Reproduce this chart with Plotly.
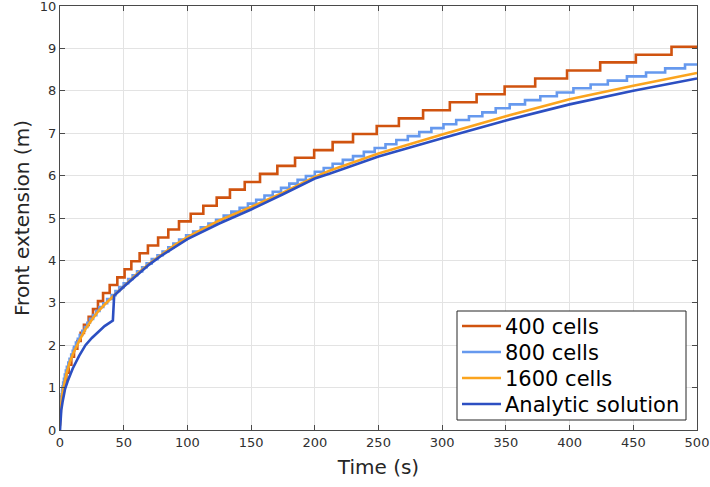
import plotly.graph_objects as go

# ---- data ----
t_400 = [0, 0.4, 1.1, 2.1, 3.4, 5.0, 6.8, 8.9, 11.0, 13.6, 16.2, 18.8, 22.5, 25.9, 29.8, 33.8,
         39.0, 45.0, 50.7, 56.0, 62.5, 69.0, 77.0, 85.0, 93.4, 102.6, 112.5, 123.0, 133.4, 145.0,
         157.0, 170.6, 184.5, 199.5, 214.0, 230.0, 248.6, 266.0, 285.0, 306.0, 327.0, 349.0,
         373.0, 398.0, 424.0, 452.0, 480.0, 500.0]
x_400 = [0.42, 0.60, 0.79, 0.98, 1.17, 1.35, 1.54, 1.73, 1.92, 2.10, 2.29, 2.48, 2.67, 2.85, 3.04, 3.23,
         3.42, 3.60, 3.79, 3.98, 4.17, 4.35, 4.54, 4.73, 4.92, 5.10, 5.29, 5.48, 5.67, 5.85,
         6.04, 6.23, 6.42, 6.60, 6.79, 6.98, 7.17, 7.35, 7.54, 7.73, 7.92, 8.10,
         8.29, 8.48, 8.67, 8.85, 9.04, 9.04]

t_800 = [0, 0.12, 0.25, 0.4, 0.6, 0.9, 1.2, 1.6, 2.0, 2.5, 3.1, 3.8, 4.6, 5.4, 6.5, 7.5, 8.8, 10.0,
         11.0, 12.5, 14.0, 15.5, 17.5, 19.5, 21.5, 23.5, 26.0, 28.5, 31.0, 34.0, 37.0, 40.5, 43.5,
         46.5, 50.0, 53.5, 57.0, 60.5, 64.5, 68.0, 72.0, 76.5, 80.5, 85.0, 89.0, 93.5, 99.0, 104.5,
         110.5, 116.5, 122.5, 128.5, 134.5, 141.0, 147.5, 154.0, 160.5, 167.0, 173.5, 180.0, 186.5,
         193.0, 200.0, 207.0, 214.0, 222.0, 230.0, 238.5, 247.0, 255.5, 264.0, 273.0, 282.0, 291.5,
         301.0, 311.0, 321.0, 331.5, 342.0, 353.0, 365.0, 377.0, 390.0, 403.0, 416.5, 430.0, 445.0,
         460.0, 475.0, 490.6, 500.0]
x_800 = [0.28, 0.37, 0.46, 0.56, 0.65, 0.74, 0.84, 0.93, 1.03, 1.12, 1.21, 1.31, 1.40, 1.49, 1.59, 1.68, 1.78, 1.87,
         1.96, 2.06, 2.15, 2.24, 2.34, 2.43, 2.53, 2.62, 2.71, 2.81, 2.90, 2.99, 3.09, 3.18, 3.28,
         3.37, 3.46, 3.56, 3.65, 3.74, 3.84, 3.93, 4.03, 4.12, 4.21, 4.31, 4.40, 4.49, 4.59, 4.68,
         4.78, 4.87, 4.96, 5.06, 5.15, 5.24, 5.34, 5.43, 5.53, 5.62, 5.71, 5.81, 5.90,
         5.99, 6.09, 6.18, 6.28, 6.37, 6.46, 6.56, 6.65, 6.74, 6.84, 6.93, 7.03, 7.12,
         7.21, 7.31, 7.40, 7.49, 7.59, 7.68, 7.78, 7.87, 7.96, 8.06, 8.15, 8.24, 8.34,
         8.43, 8.53, 8.62, 8.62]

t_1600 = [0, 0.5, 1, 2, 3, 5, 7.5, 10, 15, 20, 25, 30, 35, 40, 45, 50, 60, 70, 80, 90, 100,
          125, 150, 175, 200, 212, 250, 300, 350, 400, 450, 500]
x_1600 = [0.10, 0.45, 0.62, 0.88, 1.05, 1.32, 1.58, 1.78, 2.10, 2.38, 2.60, 2.80, 2.96, 3.10, 3.25,
          3.40, 3.67, 3.92, 4.15, 4.36, 4.55, 4.94, 5.26, 5.60, 5.97, 6.12, 6.52, 6.97, 7.40,
          7.80, 8.12, 8.42]

t_an = [0, 0.25, 0.5, 1, 2, 3, 4, 6, 8, 10, 15, 20, 25, 30, 35, 41.5, 42.5, 50, 60, 70, 80, 90,
        100, 125, 150, 175, 200, 212, 250, 300, 350, 400, 450, 500]
x_an = [0, 0.22, 0.33, 0.47, 0.66, 0.82, 0.97, 1.15, 1.30, 1.45, 1.75, 2.00, 2.17, 2.32, 2.45,
        2.58, 3.17, 3.38, 3.65, 3.90, 4.12, 4.32, 4.50, 4.87, 5.20, 5.56, 5.93, 6.05, 6.45,
        6.88, 7.30, 7.68, 8.00, 8.29]

x_ticks = [0, 50, 100, 150, 200, 250, 300, 350, 400, 450, 500]
y_ticks = [0, 1, 2, 3, 4, 5, 6, 7, 8, 9, 10]

series_names = ["400 cells", "800 cells", "1600 cells", "Analytic solution"]
series_colors = ["#D0530F", "#6699EE", "#FBA41E", "#2C4FC2"]

FONT = "DejaVu Sans"
LW = 2.6

fig = go.Figure()
series = [(t_400, x_400, "hv"), (t_800, x_800, "hv"), (t_1600, x_1600, "linear"), (t_an, x_an, "linear")]
for (tx, vy, shp), nm, col in zip(series, series_names, series_colors):
    fig.add_trace(go.Scatter(x=tx, y=vy, mode="lines", name=nm, showlegend=False,
                             line=dict(color=col, width=LW, shape=shp)))

# ---- custom legend box (positions in axis-domain fractions) ----
def dx(px):
    return (px - 60) / 637.0

def dy(py):
    return (430 - py) / 424.0

fig.add_shape(type="rect", xref="x domain", yref="y domain",
              x0=dx(457), x1=dx(686), y0=dy(420), y1=dy(311),
              line=dict(color="#262626", width=1), fillcolor="white", layer="above")
row_y = [326, 352, 378, 404]
for ry, nm, col in zip(row_y, series_names, series_colors):
    fig.add_shape(type="line", xref="x domain", yref="y domain",
                  x0=dx(462), x1=dx(501), y0=dy(ry), y1=dy(ry),
                  line=dict(color=col, width=LW), layer="above")
    fig.add_annotation(xref="x domain", yref="y domain", x=dx(503), y=dy(ry + 1),
                       text=nm, showarrow=False, xanchor="left", yanchor="middle",
                       font=dict(family=FONT, size=21, color="black"))

axis_common = dict(
    showline=True, linecolor="#4a4a4a", linewidth=1, mirror="ticks",
    ticks="inside", ticklen=5, tickcolor="#4a4a4a", tickwidth=1,
    showgrid=True, gridcolor="#e3e3e3", gridwidth=1, zeroline=False,
    tickfont=dict(family=FONT, size=13, color="#303030"),
    ticklabeloverflow="allow", automargin=False,
)

fig.update_layout(
    width=710, height=487,
    margin=dict(l=60, r=13, t=6, b=57),
    paper_bgcolor="white", plot_bgcolor="white",
    font=dict(family=FONT),
    xaxis=dict(range=[0, 500], tickvals=x_ticks,
               title=dict(text="Time (s)", font=dict(family=FONT, size=20, color="#262626"), standoff=11),
               **axis_common),
    yaxis=dict(range=[0, 10], tickvals=y_ticks,
               title=dict(text="Front extension (m)", font=dict(family=FONT, size=20, color="#262626"), standoff=4),
               **axis_common),
    showlegend=False,
)

fig.write_html("out.html")
